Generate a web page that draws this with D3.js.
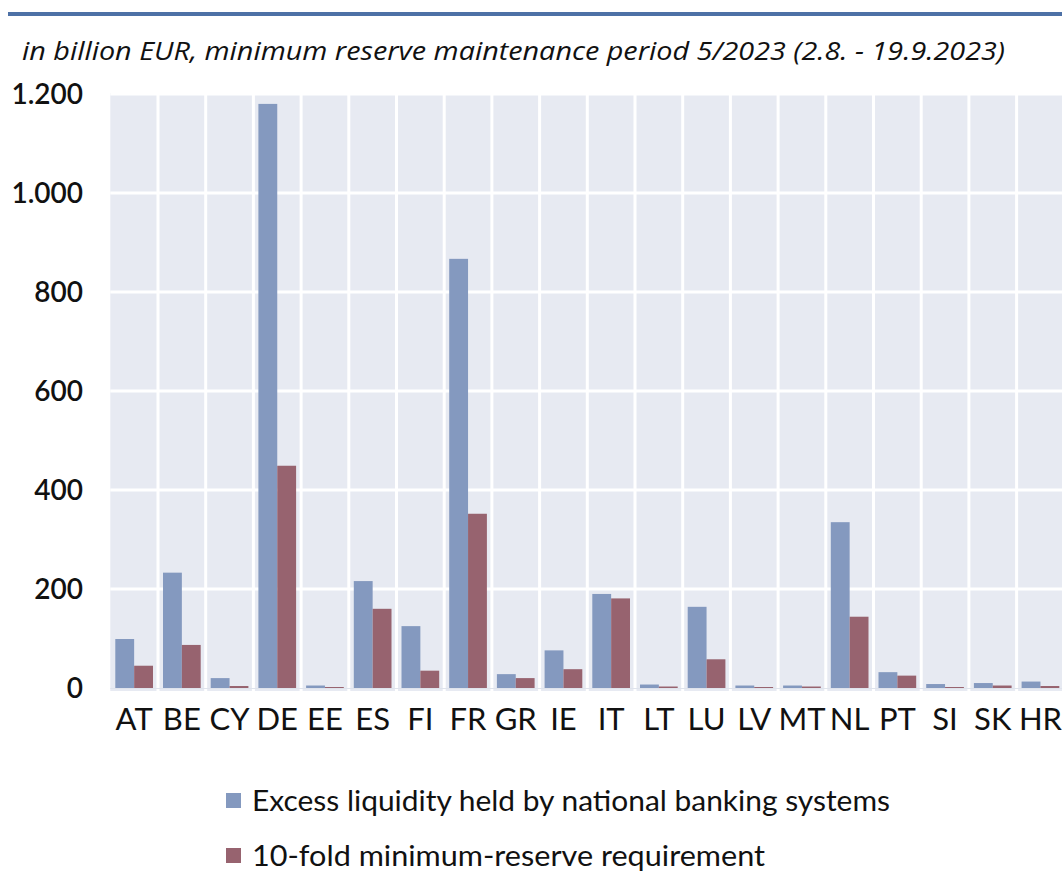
<!DOCTYPE html>
<html><head><meta charset="utf-8">
<script src="https://cdn.jsdelivr.net/npm/d3@7"></script>
<style>body{margin:0;background:#fff;} svg{display:block;}</style>
</head><body>
<svg id="c" width="1062" height="871"></svg>
<script>
const categories = ["AT","BE","CY","DE","EE","ES","FI","FR","GR","IE","IT","LT","LU","LV","MT","NL","PT","SI","SK","HR"];
const excessLiquidity = [99,233,20,1180,5,216,125,867,28,76,190,7,164,5,5,335,32,8,10,13];
const minReserve10 = [45,87,4,449,2,160,35,352,20,38,181,3,58,2,3,144,25,2,5,4];
const yTicks = [0,200,400,600,800,1000,1200];
const yTickLabels = ["0","200","400","600","800","1.000","1.200"];
const seriesNames = ["Excess liquidity held by national banking systems","10-fold minimum-reserve requirement"];
const colors = ["#8499bf","#97636f"];

const svg = d3.select("#c");
const left = 110.3, bw = 47.7;
const x = d3.scaleBand().domain(categories).range([left, left + bw*categories.length]).paddingInner(0).paddingOuter(0);
const y = d3.scaleLinear().domain([0,1200]).range([688,94]);
const font = "Lato, 'Open Sans', sans-serif";

// top rule
svg.append("line").attr("x1",8).attr("x2",1062).attr("y1",14).attr("y2",14)
  .attr("stroke","#4d71a6").attr("stroke-width",4);

// subtitle
svg.append("text").attr("x",22).attr("y",60)
  .attr("font-family","'Open Sans', sans-serif").attr("font-style","italic")
  .attr("font-size",25).attr("fill","#111")
  .attr("textLength",983).attr("lengthAdjust","spacingAndGlyphs")
  .text("in billion EUR, minimum reserve maintenance period 5/2023 (2.8. - 19.9.2023)");

// plot background
svg.append("rect").attr("x",left).attr("y",y(1200)-1).attr("width",1062-left).attr("height",y(0)-y(1200)+4)
  .attr("fill","#e7eaf2");

// horizontal gridlines
svg.append("g").selectAll("line").data(yTicks.filter(d=>d>0)).join("line")
  .attr("x1",left).attr("x2",1062).attr("y1",d=>y(d)).attr("y2",d=>y(d))
  .attr("stroke","#fff").attr("stroke-width",3);

// vertical gridlines
svg.append("g").selectAll("line").data(categories.slice(1)).join("line")
  .attr("x1",d=>x(d)).attr("x2",d=>x(d)).attr("y1",y(1200)-1).attr("y2",y(0)+3)
  .attr("stroke","#fff").attr("stroke-width",3);

// bars
const x1 = d3.scaleBand().domain([0,1]).range([5, bw-5]);
const g = svg.append("g");
categories.forEach((c,i)=>{
  [excessLiquidity[i], minReserve10[i]].forEach((v,j)=>{
    g.append("rect").attr("x",x(c)+x1(j)).attr("width",x1.bandwidth())
      .attr("y",y(v)).attr("height",y(0)-y(v)).attr("fill",colors[j]);
  });
});

// baseline subtle
svg.append("line").attr("x1",left).attr("x2",1062).attr("y1",y(0)+0.5).attr("y2",y(0)+0.5)
  .attr("stroke","#dfe3ec").attr("stroke-width",1);

// y axis labels
svg.append("g").selectAll("text").data(yTicks).join("text")
  .attr("x",83).attr("y",d=>y(d)).attr("dy","0.36em").attr("text-anchor","end")
  .attr("font-family",font).attr("font-size",28).attr("font-weight",600).attr("fill","#111")
  .text((d,i)=>yTickLabels[i]);

// x axis labels
svg.append("g").selectAll("text").data(categories).join("text")
  .attr("x",d=>x(d)+bw/2).attr("y",730).attr("text-anchor","middle")
  .attr("font-family",font).attr("font-size",31).attr("fill","#111")
  .text(d=>d);

// legend
const legendWidths = [638, 513];
seriesNames.forEach((n,i)=>{
  const ly = 801 + i*55;
  svg.append("rect").attr("x",226).attr("y",ly-8).attr("width",15).attr("height",15).attr("fill",colors[i]);
  svg.append("text").attr("x",252).attr("y",ly).attr("dy","0.36em")
    .attr("font-family",font).attr("font-size",28).attr("fill","#111")
    .attr("textLength",legendWidths[i]).attr("lengthAdjust","spacingAndGlyphs").text(n);
});
</script>
</body></html>
